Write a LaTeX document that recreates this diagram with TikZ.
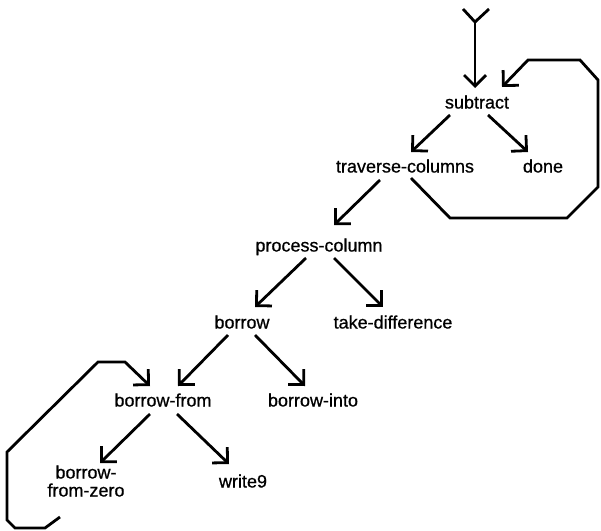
\documentclass[tikz,border=0pt]{standalone}
\usepackage{fontspec}
\setmainfont{Liberation Sans}
\newfontfamily\procfont{Liberation Sans}[FakeBold=0.7]
\usetikzlibrary{arrows.meta,calc}
\begin{document}
\begin{tikzpicture}[x=1pt,y=-1pt,
  proc/.style={inner sep=0pt,font=\procfont\fontsize{18}{18}\selectfont,text height=12pt,text depth=3pt},
  link/.style={line width=2.8pt,-{Straight Barb[length=11pt,width=22pt,line width=2.8pt]}},
  wire/.style={line width=2.8pt}]
\useasboundingbox (0,0) rectangle (601,530);

% procedure names
\node[proc] (subtract) at (477,104) {subtract};
\node[proc] (traverse) at (405,168) {traverse-columns};
\node[proc] (done)     at (543,168) {done};
\node[proc] (process)  at (319,247) {process-column};
\node[proc] (borrow)   at (242,324) {borrow};
\node[proc] (takediff) at (393,324) {take-difference};
\node[proc] (bfrom)    at (163,402) {borrow-from};
\node[proc] (binto)    at (313,402) {borrow-into};
\node[proc,align=center] (bfzero) at (86,492) {borrow-\\from-zero};
\node[proc] (write)    at (243,483) {write9};

% entry point
\coordinate (fork) at (475,22);
\draw[wire] (463,9) -- (fork) -- (489,9);
\draw[link] (fork) -- ($(subtract)+(-2,-16)$);

% calls
\draw[link] ($(subtract)+(-27,11)$) -- ($(traverse)+(6,-16)$);
\draw[link] ($(subtract)+(11,11)$)  -- ($(done)+(-15,-16)$);
\draw[link] ($(traverse)+(-25,12)$) -- ($(process)+(15,-22)$);
\draw[link] ($(process)+(-13,11)$)  -- ($(borrow)+(13,-17)$);
\draw[link] ($(process)+(15,11)$)   -- ($(takediff)+(-10,-17)$);
\draw[link] ($(borrow)+(-14,11)$)   -- ($(bfrom)+(15,-16)$);
\draw[link] ($(borrow)+(13,11)$)    -- ($(binto)+(-8,-16)$);
\draw[link] ($(bfrom)+(-13,12)$)    -- ($(bfzero)+(14,-29)$);
\draw[link] ($(bfrom)+(14,12)$)     -- ($(write)+(-14,-19)$);

% iteration of subtract
\draw[link] ($(traverse)+(6,10)$) -- (450,218) -- (567,218) -- (598,187)
  -- (598,80) -- (580,60) -- (528,60) -- ($(subtract)+(25,-17)$);

% recursion of borrow-from
\draw[link] ($(bfzero)+(-26,25)$) -- (45,528) -- (15,528) -- (7,520)
  -- (7,452) -- (98,362) -- (125,362) -- ($(bfrom)+(-13,-16)$);
\end{tikzpicture}
\end{document}
